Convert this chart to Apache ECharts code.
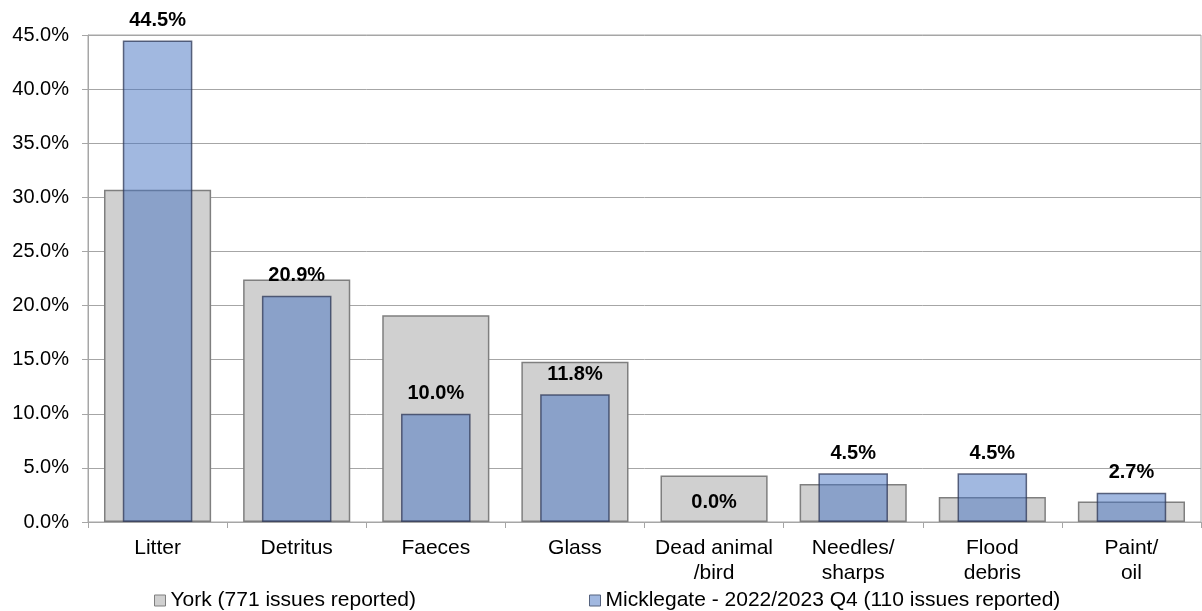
<!DOCTYPE html>
<html>
<head>
<meta charset="utf-8">
<script src="https://cdn.jsdelivr.net/npm/echarts@6/dist/echarts.min.js"></script>
<style>
html,body{margin:0;padding:0;background:#fff;}
#chart{width:1202px;height:611px;}
</style>
</head>
<body>
<div id="chart"></div>
<script>
var categories = ['Litter', 'Detritus', 'Faeces', 'Glass', 'Dead animal\n/bird', 'Needles/\nsharps', 'Flood\ndebris', 'Paint/\noil'];
var yorkValues = [30.7, 22.4, 19.1, 14.8, 4.3, 3.5, 2.3, 1.9];
var micklegateValues = [44.5, 20.9, 10.0, 11.8, 0.0, 4.5, 4.5, 2.7];
var seriesNames = ['York (771 issues reported)', 'Micklegate - 2022/2023 Q4 (110 issues reported)'];

var font = 'Liberation Sans, Arial, sans-serif';
var chart = echarts.init(document.getElementById('chart'));
chart.setOption({
  animation: false,
  backgroundColor: '#fff',
  textStyle: { fontFamily: font },
  grid: { left: 88, right: 1, top: 35, bottom: 89, show: true, borderColor: '#a6a6a6', borderWidth: 1 },
  legend: [
    {
      left: 154, top: 590, itemWidth: 11, itemHeight: 11, padding: 0,
      textStyle: { fontFamily: font, fontSize: 21, color: '#000' },
      data: [{ name: seriesNames[0], icon: 'rect', itemStyle: { color: '#d0d0d0', borderColor: '#7f7f7f', borderWidth: 1 } }]
    },
    {
      left: 589, top: 590, itemWidth: 11, itemHeight: 11, padding: 0,
      textStyle: { fontFamily: font, fontSize: 21, color: '#000' },
      data: [{ name: seriesNames[1], icon: 'rect', itemStyle: { color: '#a1b8e0', borderColor: '#55627e', borderWidth: 1 } }]
    }
  ],
  xAxis: [
    {
      type: 'category', data: categories,
      axisLine: { lineStyle: { color: '#a6a6a6', width: 1 } },
      axisTick: { show: true, length: 6, lineStyle: { color: '#a6a6a6' } },
      axisLabel: { fontFamily: font, fontSize: 21, color: '#000', margin: 14, lineHeight: 25, interval: 0 }
    },
    { type: 'category', data: categories, show: false }
  ],
  yAxis: {
    type: 'value', min: 0, max: 45, interval: 5,
    axisLine: { show: true, lineStyle: { color: '#a6a6a6' } },
    axisTick: { show: true, length: 6, lineStyle: { color: '#a6a6a6' } },
    splitLine: { lineStyle: { color: '#a6a6a6', width: 1 } },
    axisLabel: { fontFamily: font, fontSize: 20, color: '#000', margin: 19, formatter: function (v) { return v.toFixed(1) + '%'; } }
  },
  series: [
    {
      name: seriesNames[0], type: 'bar', xAxisIndex: 0, barWidth: '77%',
      data: yorkValues,
      itemStyle: { color: '#d0d0d0', borderColor: '#7f7f7f', borderWidth: 1.5 }
    },
    {
      name: seriesNames[1], type: 'bar', xAxisIndex: 1, barWidth: '50%',
      data: micklegateValues.map(function (v) { return v === 0 ? { value: v, itemStyle: { borderWidth: 0 } } : v; }),
      itemStyle: { color: 'rgba(71,116,194,0.51)', borderColor: 'rgba(45,55,85,0.75)', borderWidth: 1.5 },
      label: {
        show: true, position: 'top', distance: 10,
        fontFamily: font, fontSize: 20, fontWeight: 'bold', color: '#000',
        formatter: function (p) { return p.value.toFixed(1) + '%'; }
      }
    }
  ]
});
</script>
</body>
</html>
